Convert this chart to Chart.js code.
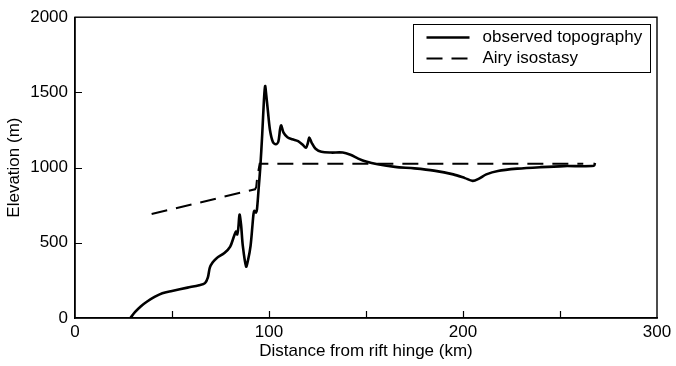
<!DOCTYPE html>
<html>
<head>
<meta charset="utf-8">
<script src="https://cdn.jsdelivr.net/npm/chart.js@4/dist/chart.umd.min.js"></script>
<style>
  html, body { margin: 0; padding: 0; background: #fff; }
  #wrap { width: 676px; height: 366px; }
</style>
</head>
<body>
<div id="wrap"><canvas id="chart" width="676" height="366"></canvas></div>
<script>
// observed topography profile (km, m)
const topoKm = [28.5, 31, 34, 37, 41, 45, 50, 58, 64, 67, 68.5, 69.5, 71, 73, 77, 80, 82, 83, 83.6, 84.2, 84.8, 85.6, 86.5, 88.2, 89.2, 90.5, 91.5, 92, 92.4, 93.3, 93.8, 94.6, 95.5, 96.5, 97.4, 98, 98.6, 99.4, 100.5, 102, 103.5, 104.8, 105.7, 106.3, 107.5, 109.5, 112, 115, 117.5, 119, 120, 120.8, 122, 124, 127, 132, 138, 142, 146, 150, 156, 165, 175, 185, 195, 201, 205, 208, 212, 218, 228, 240, 252, 267.5, 268];
const topoElev = [0, 40, 78, 108, 140, 165, 180, 202, 218, 232, 270, 335, 370, 398, 432, 475, 545, 575, 555, 600, 688, 620, 480, 342, 385, 480, 620, 690, 712, 700, 722, 850, 1000, 1220, 1450, 1542, 1480, 1380, 1250, 1170, 1155, 1172, 1255, 1280, 1232, 1202, 1188, 1176, 1150, 1132, 1162, 1200, 1165, 1125, 1105, 1100, 1100, 1085, 1060, 1040, 1022, 1005, 995, 980, 955, 930, 912, 925, 955, 978, 993, 1003, 1010, 1012, 1032];

// Airy isostasy prediction (km, m)
const airyKm = [39.5, 92.8, 93.4, 93.8, 94.2, 95.2, 262];
const airyElev = [691, 856, 870, 920, 955, 1025, 1025];

const xTicks = [0, 100, 200, 300];
const yTicks = [0, 500, 1000, 1500, 2000];

const seriesNames = ['observed topography', 'Airy isostasy'];

const pts = (xs, ys) => xs.map((x, i) => ({ x: x, y: ys[i] }));

const FONT = { family: 'Liberation Sans, Arial, Helvetica, sans-serif', size: 17 };

// inward tick marks, frame round the plot and the boxed legend
const framePlugin = {
  id: 'frame',
  afterDatasetsDraw(chart) {
    const { ctx, chartArea: a, scales } = chart;
    ctx.save();
    ctx.strokeStyle = '#000';
    ctx.lineWidth = 1.4;
    ctx.strokeRect(a.left, a.top, a.right - a.left, a.bottom - a.top);

    ctx.lineWidth = 1.2;
    ctx.beginPath();
    for (let v = 50; v < 300; v += 50) {
      const px = Math.round(scales.x.getPixelForValue(v)) + 0.5;
      ctx.moveTo(px, a.bottom);
      ctx.lineTo(px, a.bottom - 7);
    }
    for (const v of yTicks.slice(1, -1)) {
      const py = Math.round(scales.y.getPixelForValue(v)) + 0.5;
      ctx.moveTo(a.left, py);
      ctx.lineTo(a.left + 7, py);
    }
    ctx.stroke();

    // legend
    const lx = 413.5, ly = 24.5, lw = 237, lh = 48;
    ctx.fillStyle = '#fff';
    ctx.fillRect(lx, ly, lw, lh);
    ctx.lineWidth = 1;
    ctx.strokeRect(lx, ly, lw, lh);
    ctx.font = FONT.size + 'px ' + FONT.family;
    ctx.textBaseline = 'middle';
    ctx.fillStyle = '#000';
    chart.data.datasets.forEach((ds, i) => {
      const y = ly + 13 + i * 21;
      ctx.beginPath();
      ctx.lineWidth = ds.borderWidth;
      ctx.setLineDash(ds.borderDash || []);
      ctx.moveTo(lx + 13, y);
      ctx.lineTo(lx + 56, y);
      ctx.stroke();
      ctx.setLineDash([]);
      ctx.fillText(ds.label, lx + 69, y);
    });
    ctx.restore();
  }
};

new Chart(document.getElementById('chart'), {
  type: 'line',
  data: {
    datasets: [
      {
        label: seriesNames[0],
        data: pts(topoKm, topoElev),
        borderColor: '#000',
        borderWidth: 2.6,
        pointRadius: 0,
        tension: 0.3,
        fill: false
      },
      {
        label: seriesNames[1],
        data: pts(airyKm, airyElev),
        borderColor: '#000',
        borderWidth: 2,
        borderDash: [16, 9],
        pointRadius: 0,
        tension: 0,
        fill: false
      }
    ]
  },
  options: {
    responsive: false,
    animation: false,
    layout: { padding: { top: 15, right: 19, left: 0, bottom: 0 } },
    plugins: { legend: { display: false }, tooltip: { enabled: false } },
    scales: {
      x: {
        type: 'linear',
        min: 0,
        max: 300,
        afterFit: s => { s.height = 48; },
        afterBuildTicks: s => { s.ticks = xTicks.map(v => ({ value: v })); },
        grid: { display: false, drawTicks: false },
        border: { display: true, color: '#000', width: 1.4 },
        ticks: { color: '#000', font: FONT, padding: 4, maxRotation: 0, autoSkip: false, callback: v => String(v) },
        title: {
          display: true,
          text: 'Distance from rift hinge (km)',
          color: '#000',
          font: FONT,
          padding: { top: 0, bottom: 4 }
        }
      },
      y: {
        type: 'linear',
        min: 0,
        max: 2000,
        afterFit: s => { s.width = 75; },
        afterBuildTicks: s => { s.ticks = yTicks.map(v => ({ value: v })); },
        grid: { display: false, drawTicks: false },
        border: { display: true, color: '#000', width: 1.4 },
        ticks: { color: '#000', font: FONT, padding: 7, callback: v => String(v) },
        title: {
          display: true,
          text: 'Elevation (m)',
          color: '#000',
          font: FONT,
          padding: { top: 4, bottom: 0 }
        }
      }
    }
  },
  plugins: [framePlugin]
});
</script>
</body>
</html>
